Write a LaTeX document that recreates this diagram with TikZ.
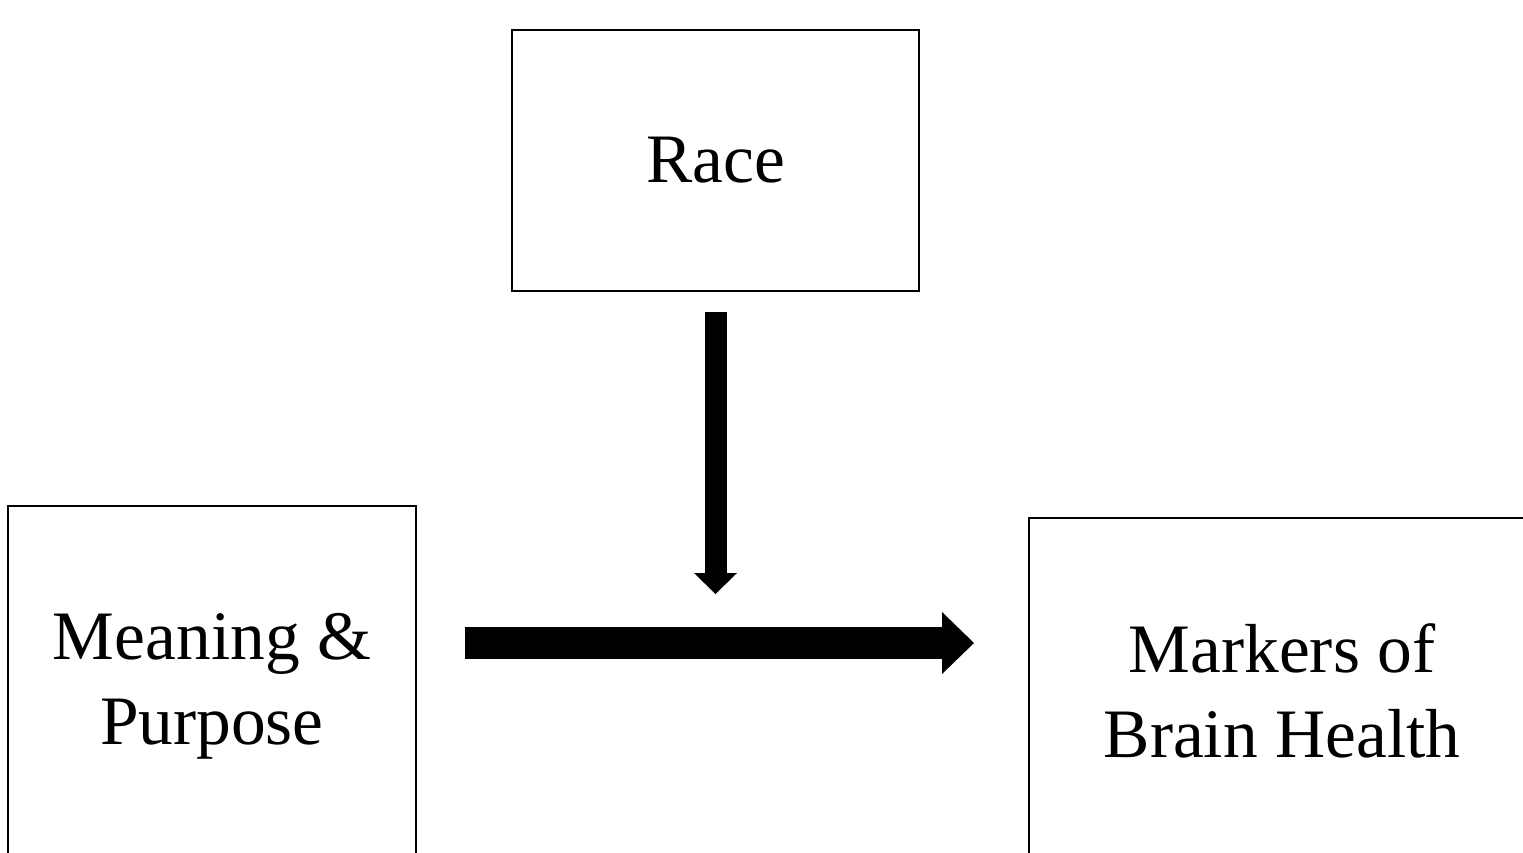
\documentclass[tikz,border=0pt]{standalone}
\usepackage{fontspec}
\setmainfont{Liberation Serif}
\usetikzlibrary{arrows.meta}

\begin{document}
\begin{tikzpicture}[x=0.02cm,y=-0.02cm,>={Triangle[line width=0pt]},
        caja/.style={draw,line width=0.85pt,align=center,font=\fontsize{39.5}{48.4}\selectfont}]
        % Marco
        \useasboundingbox (0,0) rectangle (1523,852);
        \clip (0,0) rectangle (1523,852);

        % Cajas
        \node[caja,minimum width=8.14cm,minimum height=5.22cm] (race) at (715.5,160.5) {Race};
        \node[caja,minimum width=8.16cm,minimum height=7.2cm] (mp) at (212,686) {Meaning \&\\Purpose};
        \node[caja,minimum width=10.12cm,minimum height=6.9cm] (mbh) at (1282,690.5) {Markers of\\Brain Health};

        % Flechas
        \coordinate (tip) at (974,643);
        \coordinate (mod) at (715.5,594);
        \draw[->,line width=0.64cm,>={Triangle[length=0.64cm,width=1.24cm,line width=0pt]},shorten <=0.96cm] (mp.east |- tip) -- (tip);
        \draw[->,line width=0.44cm,>={Triangle[length=0.42cm,width=0.86cm,line width=0pt]},shorten <=0.4cm] (race.south) -- (mod);
    \end{tikzpicture}
\end{document}
